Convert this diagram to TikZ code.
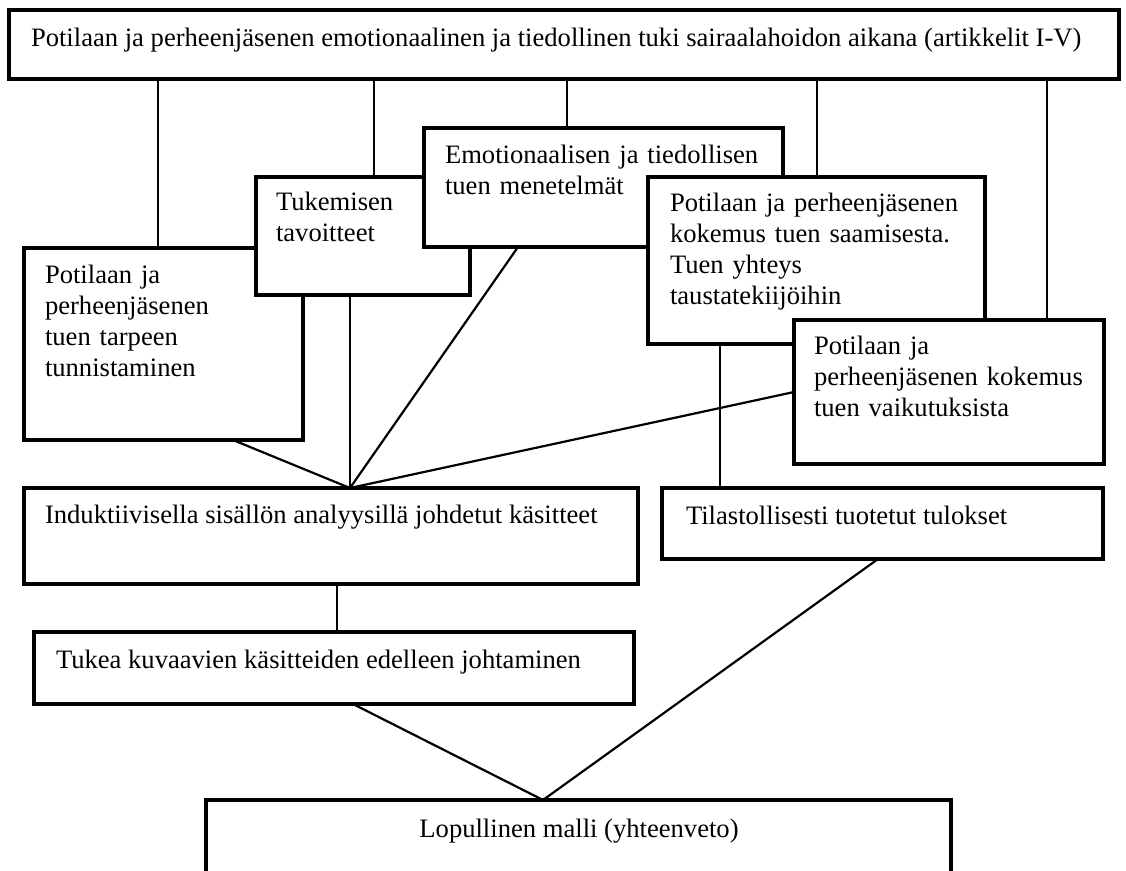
\documentclass[tikz,border=0pt]{standalone}
\usepackage{fontspec}
\setmainfont{Liberation Serif}
\usetikzlibrary{backgrounds}
\begin{document}
\begin{tikzpicture}[x=1pt,y=-1pt,
  box/.style={draw, line width=3.2pt, fill=white, inner sep=0pt, outer sep=0pt, anchor=north west},
  link/.style={line width=2.2pt},
  txt/.style={anchor=base west, inner sep=0pt, outer sep=0pt, text width=480pt, align=left, font=\fontsize{26.6}{31}\selectfont},
  sline/.style={anchor=base west, inner sep=0pt, outer sep=0pt, font=\fontsize{26.6}{31}\selectfont},
  ctxt/.style={anchor=base, inner sep=0pt, outer sep=0pt, font=\fontsize{26.6}{31}\selectfont}]
\useasboundingbox (0,0) rectangle (1126,870);
% boxes (drawn in stacking order)
\node[box, minimum width=1110pt, minimum height=69pt] (top) at (9,10) {};
\node[sline] (t0) at (31,46) {Potilaan ja perheenjäsenen emotionaalinen ja tiedollinen tuki sairaalahoidon aikana (artikkelit I-V)};
\node[box, minimum width=279pt, minimum height=192pt] (b1) at (24,248) {};
\node[txt] (t1) at (45,283) {Potilaan ja\\perheenjäsenen\\tuen tarpeen\\tunnistaminen};
\node[box, minimum width=214pt, minimum height=118pt] (b2) at (256,177) {};
\node[txt] (t2) at (276,210) {Tukemisen\\tavoitteet};
\node[box, minimum width=359pt, minimum height=119pt] (b3) at (424,128) {};
\node[txt] (t3) at (445,163) {Emotionaalisen ja tiedollisen\\tuen menetelmät};
\node[box, minimum width=337pt, minimum height=167pt] (b4) at (648,177) {};
\node[txt] (t4) at (670,211) {Potilaan ja perheenjäsenen\\kokemus tuen saamisesta.\\Tuen yhteys\\taustatekiijöihin};
\node[box, minimum width=310pt, minimum height=144pt] (b5) at (794,320) {};
\node[txt] (t5) at (814,354) {Potilaan ja\\perheenjäsenen kokemus\\tuen vaikutuksista};
\node[box, minimum width=614pt, minimum height=96pt] (ind) at (24,488) {};
\node[sline] (t6) at (45,523) {Induktiivisella sisällön analyysillä johdetut käsitteet};
\node[box, minimum width=441pt, minimum height=71pt] (til) at (662,488) {};
\node[sline] (t7) at (686,524) {Tilastollisesti tuotetut tulokset};
\node[box, minimum width=600pt, minimum height=72pt] (tuk) at (34,632) {};
\node[sline] (t8) at (56,668) {Tukea kuvaavien käsitteiden edelleen johtaminen};
\node[box, minimum width=745pt, minimum height=110pt] (fin) at (206,800) {};
\node[ctxt] (t9) at (579,837) {Lopullinen malli (yhteenveto)};
% connector x positions
\coordinate (xa) at (158,0);
\coordinate (xb) at (374,0);
\coordinate (xc) at (567,0);
\coordinate (xd) at (817,0);
\coordinate (xe) at (1047,0);
\coordinate (xf) at (233,0);
\coordinate (xg) at (350,0);
\coordinate (xh) at (518,0);
\coordinate (xi) at (720,0);
\coordinate (xj) at (337,0);
\coordinate (xk) at (353,0);
\coordinate (xl) at (543,0);
\coordinate (xm) at (878,0);
\begin{scope}[on background layer]
\draw[link] (top.south -| xa) -- (b1.north -| xa);
\draw[link] (top.south -| xb) -- (b2.north -| xb);
\draw[link] (top.south -| xc) -- (b3.north -| xc);
\draw[link] (top.south -| xd) -- (b4.north -| xd);
\draw[link] (top.south -| xe) -- (b5.north -| xe);
\draw[link] (b1.south -| xf) -- (ind.north -| xg);
\draw[link] (b2.south -| xg) -- (ind.north -| xg);
\draw[link] (b3.south -| xh) -- (ind.north -| xg);
\draw[link] (b5.west) -- (ind.north -| xg);
\draw[link] (b4.south -| xi) -- (til.north -| xi);
\draw[link] (ind.south -| xj) -- (tuk.north -| xj);
\draw[link] (tuk.south -| xk) -- (fin.north -| xl);
\draw[link] (til.south -| xm) -- (fin.north -| xl);
\end{scope}
\end{tikzpicture}
\end{document}
